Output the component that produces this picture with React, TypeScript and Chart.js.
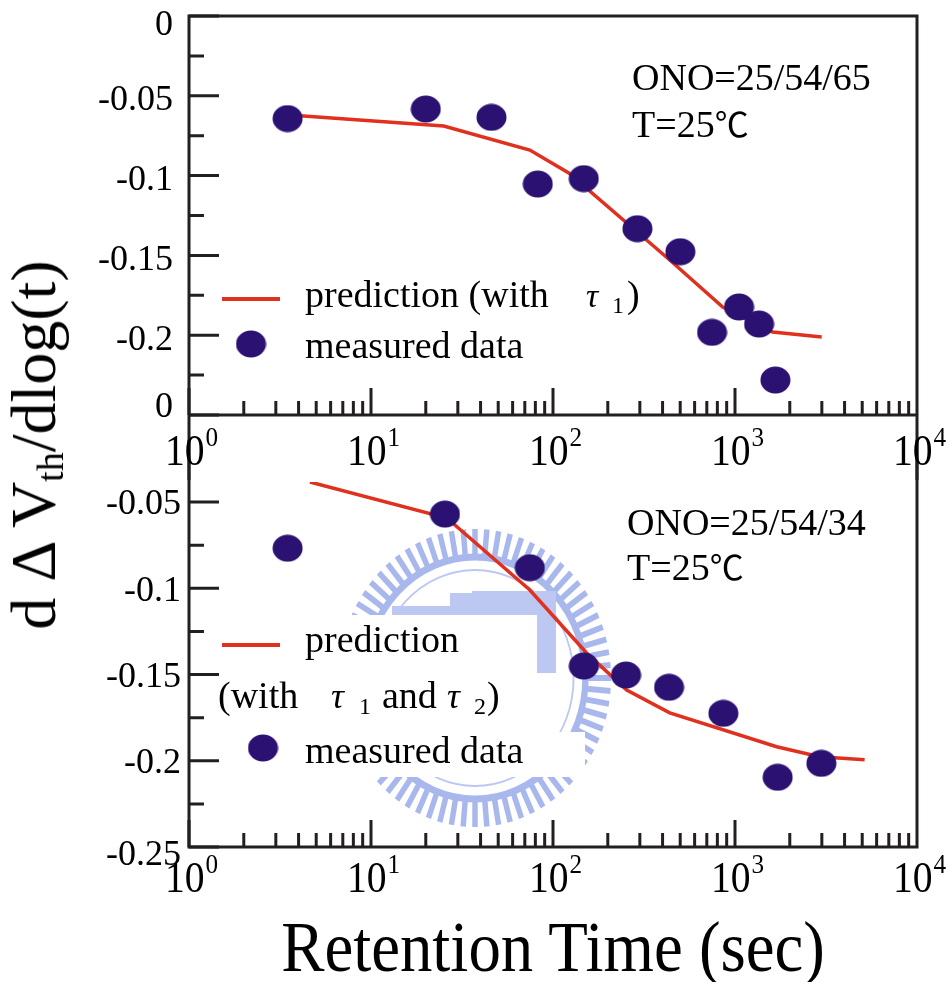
import React, { useEffect, useRef } from "react";
import { Chart, registerables } from "chart.js";

Chart.register(...registerables);

const SERIF = '"Liberation Serif", serif';
const CJK = '"Noto Sans CJK SC", "Liberation Serif", serif';
const AXIS_COLOR = "#231f20";
const LINE_RED = "#e0301e";
const DOT_BLUE = "#2a1172";
const WATERMARK = "#a9b8ec";
const WATERMARK_LIGHT = "#bcc8f1";

// ---------- data ----------
// upper panel: ONO=25/54/65
const topMeasuredTime = [3.48, 20.0, 45.9, 82.5, 147.6, 291, 501, 748, 1052, 1355, 1667];
const topMeasuredValue = [-0.0643, -0.0583, -0.0635, -0.1053, -0.1019, -0.1333, -0.1477, -0.1982, -0.1823, -0.193, -0.2281];
const topPredTime = [4.07, 25.1, 74.6, 122, 438, 856, 1610, 2994];
const topPredValue = [-0.0625, -0.0689, -0.084, -0.0984, -0.1529, -0.1823, -0.198, -0.2011];

// lower panel: ONO=25/54/34
const bottomMeasuredTime = [3.48, 25.5, 74.6, 147.6, 252, 434, 863, 1716, 2982];
const bottomMeasuredValue = [-0.0768, -0.057, -0.0881, -0.1451, -0.1503, -0.1574, -0.1725, -0.2096, -0.2015];
const bottomPredTime = [4.62, 26.1, 74.6, 153, 254, 438, 1694, 2918, 5155];
const bottomPredValue = [-0.0384, -0.0593, -0.101, -0.1375, -0.159, -0.1722, -0.1919, -0.1977, -0.1994];

// axes
const xDecades = [1, 10, 100, 1000, 10000];
const xExponents = ["0", "1", "2", "3", "4"];
const topYTicks = [0, -0.05, -0.1, -0.15, -0.2, -0.25];
const topYLabels = ["0", "-0.05", "-0.1", "-0.15", "-0.2", "0"];
const topYMinor = [-0.025, -0.075, -0.125, -0.175, -0.225];
const bottomYTicks = [-0.05, -0.1, -0.15, -0.2, -0.25];
const bottomYLabels = ["-0.05", "-0.1", "-0.15", "-0.2", "-0.25"];
const bottomYMinor = [-0.075, -0.125, -0.175, -0.225];

// texts
const topNote = ["ONO=25/54/65", "T=25\u2103"];
const bottomNote = ["ONO=25/54/34", "T=25\u2103"];

function makeDot(w: number, h: number) {
  const c = document.createElement("canvas");
  c.width = w;
  c.height = h;
  const g = c.getContext("2d")!;
  g.fillStyle = DOT_BLUE;
  g.beginPath();
  g.ellipse(w / 2, h / 2, w / 2 - 0.5, h / 2 - 0.5, 0, 0, Math.PI * 2);
  g.fill();
  return c;
}

function txt(ctx: CanvasRenderingContext2D, s: string, x: number, y: number, size: number, italic = false) {
  ctx.font = `${italic ? "italic " : ""}${size}px ${SERIF}`;
  ctx.fillStyle = "#000";
  ctx.textAlign = "left";
  ctx.textBaseline = "alphabetic";
  ctx.fillText(s, x, y);
}

// temperature note: serif text, the degree-Celsius sign from the CJK font
function tempNote(ctx: CanvasRenderingContext2D, s: string, x: number, y: number) {
  const head = s.slice(0, -1);
  const unit = s.slice(-1);
  txt(ctx, head, x, y, 38);
  const w = ctx.measureText(head).width;
  ctx.font = `34px ${CJK}`;
  ctx.fillText(unit, x + w, y);
}

function legendLine(ctx: CanvasRenderingContext2D, x0: number, x1: number, y: number) {
  ctx.save();
  ctx.strokeStyle = LINE_RED;
  ctx.lineWidth = 4;
  ctx.beginPath();
  ctx.moveTo(x0, y);
  ctx.lineTo(x1, y);
  ctx.stroke();
  ctx.restore();
}

type PanelCfg = {
  yTicks: number[];
  yLabels: string[];
  yMinor: number[];
  topBorder: boolean;
  lineTop: (top: number) => number;
  lineBottom: number;
  xLabelBaseline: number;
  yLabelRight: number;
  yLabelY: (py: number, top: number, bottom: number) => number;
  background?: (ctx: CanvasRenderingContext2D) => void;
  foreground: (ctx: CanvasRenderingContext2D) => void;
};

function decorPlugin(cfg: PanelCfg) {
  return {
    id: "decor",
    beforeDatasetsDraw(chart: any) {
      if (cfg.background) {
        const ctx = chart.ctx as CanvasRenderingContext2D;
        ctx.save();
        cfg.background(ctx);
        ctx.restore();
      }
    },
    afterDraw(chart: any) {
      const ctx = chart.ctx as CanvasRenderingContext2D;
      const { left, right, top, bottom } = chart.chartArea;
      const xs = chart.scales.x;
      const ys = chart.scales.y;
      ctx.save();
      ctx.strokeStyle = AXIS_COLOR;
      ctx.lineWidth = 3;
      ctx.lineCap = "butt";
      ctx.beginPath();
      const lt = cfg.lineTop(top);
      ctx.moveTo(left, lt);
      ctx.lineTo(left, cfg.lineBottom);
      ctx.moveTo(right, lt);
      ctx.lineTo(right, cfg.lineBottom);
      ctx.moveTo(left - 1.5, bottom);
      ctx.lineTo(right + 1.5, bottom);
      if (cfg.topBorder) {
        ctx.moveTo(left - 1.5, top);
        ctx.lineTo(right + 1.5, top);
      }
      ctx.stroke();

      // x ticks (inward)
      ctx.beginPath();
      for (let d = 0; d < xDecades.length - 1; d++) {
        for (let m = 1; m <= 9; m++) {
          const px = xs.getPixelForValue(xDecades[d] * m);
          const len = m === 1 ? 27 : 14;
          ctx.moveTo(px, bottom);
          ctx.lineTo(px, bottom - len);
        }
      }
      ctx.stroke();

      // y ticks (inward)
      ctx.beginPath();
      cfg.yTicks.forEach((v) => {
        const py = ys.getPixelForValue(v);
        ctx.moveTo(left, py);
        ctx.lineTo(left + 30, py);
      });
      cfg.yMinor.forEach((v) => {
        const py = ys.getPixelForValue(v);
        ctx.moveTo(left, py);
        ctx.lineTo(left + 15, py);
      });
      ctx.stroke();

      // y labels
      ctx.fillStyle = "#000";
      ctx.font = `36px ${SERIF}`;
      ctx.textAlign = "right";
      ctx.textBaseline = "middle";
      cfg.yTicks.forEach((v, i) => {
        const py = ys.getPixelForValue(v);
        ctx.fillText(cfg.yLabels[i], cfg.yLabelRight, cfg.yLabelY(py, top, bottom));
      });

      // x labels 10^k
      ctx.textAlign = "left";
      ctx.textBaseline = "alphabetic";
      xDecades.forEach((v, i) => {
        const px = xs.getPixelForValue(v);
        ctx.save();
        ctx.translate(px - 24, cfg.xLabelBaseline);
        ctx.scale(0.9, 1);
        ctx.font = `44px ${SERIF}`;
        ctx.fillText("10", 0, 0);
        const w = ctx.measureText("10").width;
        ctx.font = `28px ${SERIF}`;
        ctx.fillText(xExponents[i], w + 1, -19);
        ctx.restore();
      });

      cfg.foreground(ctx);
      ctx.restore();
    },
  };
}

function buildConfig(
  dot: HTMLCanvasElement,
  mx: number[],
  my: number[],
  px: number[],
  py: number[],
  ymin: number,
  ymax: number,
  padTop: number,
  xAxisH: number,
  cfg: PanelCfg
): any {
  return {
    type: "scatter",
    data: {
      datasets: [
        {
          label: "measured data",
          data: mx.map((x, i) => ({ x, y: my[i] })),
          pointStyle: dot,
          pointRadius: 15,
          pointHoverRadius: 15,
          showLine: false,
          order: 0,
        },
        {
          label: "prediction",
          data: px.map((x, i) => ({ x, y: py[i] })),
          showLine: true,
          borderColor: LINE_RED,
          backgroundColor: LINE_RED,
          borderWidth: 3.5,
          pointRadius: 0,
          pointHoverRadius: 0,
          fill: false,
          tension: 0,
          order: 1,
        },
      ],
    },
    options: {
      animation: false,
      responsive: false,
      events: [],
      layout: { padding: { left: 0, right: 33, top: padTop, bottom: 0 } },
      plugins: { legend: { display: false }, tooltip: { enabled: false }, title: { display: false } },
      scales: {
        x: {
          type: "logarithmic",
          min: 1,
          max: 10000,
          ticks: { display: false },
          grid: { display: false },
          border: { display: false },
          afterFit: (s: any) => {
            s.height = xAxisH;
          },
        },
        y: {
          type: "linear",
          min: ymin,
          max: ymax,
          ticks: { display: false },
          grid: { display: false },
          border: { display: false },
          afterFit: (s: any) => {
            s.width = 189;
          },
        },
      },
    },
    plugins: [decorPlugin(cfg)],
  };
}

export default function App() {
  const topRef = useRef<HTMLCanvasElement>(null);
  const botRef = useRef<HTMLCanvasElement>(null);

  useEffect(() => {
    const dot = makeDot(31, 28);

    const topCfg: PanelCfg = {
      yTicks: topYTicks,
      yLabels: topYLabels,
      yMinor: topYMinor,
      topBorder: true,
      lineTop: (t) => t - 1.5,
      lineBottom: 480,
      xLabelBaseline: 465,
      yLabelRight: 173,
      yLabelY: (p, t, b) => Math.min(Math.max(p + 5, t + 10), b - 7),
      foreground: (ctx) => {
        legendLine(ctx, 222, 280, 299);
        txt(ctx, "prediction (with", 305, 307, 38);
        txt(ctx, "\u03c4", 586, 307, 34, true);
        txt(ctx, "1", 612, 313, 24);
        txt(ctx, ")", 627, 307, 38);
        ctx.drawImage(dot, 251 - 15.5, 344 - 14);
        txt(ctx, "measured data", 305, 358, 38);
        txt(ctx, topNote[0], 632, 90, 38);
        tempNote(ctx, topNote[1], 632, 137);
      },
    };

    const bottomCfg: PanelCfg = {
      yTicks: bottomYTicks,
      yLabels: bottomYLabels,
      yMinor: bottomYMinor,
      topBorder: false,
      lineTop: () => 0,
      lineBottom: 407 + 1.5,
      xLabelBaseline: 452,
      yLabelRight: 181,
      yLabelY: (p, t, b) => (Math.abs(p - b) < 1 ? p + 9 : p + 3),
      background: (ctx) => {
        // faint watermark seal behind the lower panel
        ctx.save();
        ctx.translate(475, 238);
        ctx.scale(0.913, 1);
        ctx.fillStyle = WATERMARK;
        ctx.strokeStyle = WATERMARK;
        ctx.lineWidth = 7;
        ctx.beginPath();
        ctx.arc(0, 0, 121, 0, Math.PI * 2);
        ctx.stroke();
        const n = 72;
        for (let i = 0; i < n; i++) {
          ctx.save();
          ctx.rotate((i / n) * Math.PI * 2);
          ctx.fillRect(-3, -149, 6, 26);
          ctx.restore();
        }
        ctx.strokeStyle = WATERMARK_LIGHT;
        ctx.lineWidth = 2;
        ctx.beginPath();
        ctx.arc(0, 0, 108, 0, Math.PI * 2);
        ctx.stroke();
        ctx.restore();
        ctx.fillStyle = WATERMARK_LIGHT;
        ctx.fillRect(392, 166, 66, 9);
        ctx.fillRect(450, 153, 28, 22);
        ctx.fillRect(472, 151, 84, 82);
        // white backing of the legend
        ctx.fillStyle = "#fff";
        ctx.fillRect(205, 175, 332, 118);
        ctx.fillRect(205, 292, 380, 45);
      },
      foreground: (ctx) => {
        legendLine(ctx, 222, 280, 205);
        txt(ctx, "prediction", 305, 212, 38);
        txt(ctx, "(with", 218, 268, 38);
        txt(ctx, "\u03c4", 331, 268, 36, true);
        txt(ctx, "1", 359, 274, 24);
        txt(ctx, "and", 382, 268, 38);
        txt(ctx, "\u03c4", 447, 268, 36, true);
        txt(ctx, "2", 474, 274, 24);
        txt(ctx, ")", 487, 268, 38);
        ctx.drawImage(dot, 263 - 15.5, 308 - 14);
        txt(ctx, "measured data", 305, 323, 38);
        txt(ctx, bottomNote[0], 627, 95, 38);
        tempNote(ctx, bottomNote[1], 627, 140);
      },
    };

    const c1 = new Chart(
      topRef.current!,
      buildConfig(dot, topMeasuredTime, topMeasuredValue, topPredTime, topPredValue, -0.25, 0, 16, 65, topCfg)
    );
    const c2 = new Chart(
      botRef.current!,
      buildConfig(dot, bottomMeasuredTime, bottomMeasuredValue, bottomPredTime, bottomPredValue, -0.25, -0.0384, 42, 135, bottomCfg)
    );
    return () => {
      c1.destroy();
      c2.destroy();
    };
  }, []);

  return (
    <div
      style={{
        position: "absolute",
        left: 0,
        top: 0,
        width: 950,
        height: 982,
        background: "#fff",
        overflow: "hidden",
      }}
    >
      <canvas
        ref={botRef}
        width={950}
        height={542}
        style={{ position: "absolute", left: 0, top: 440, width: 950, height: 542 }}
      />
      <canvas
        ref={topRef}
        width={950}
        height={480}
        style={{ position: "absolute", left: 0, top: 0, width: 950, height: 480 }}
      />
      <div style={{ position: "absolute", left: 38, top: 445, width: 0, height: 0 }}>
        <div
          style={{
            position: "absolute",
            left: 0,
            top: 0,
            transform: "translate(-50%, -50%) rotate(-90deg)",
            whiteSpace: "nowrap",
            fontFamily: SERIF,
            fontSize: 64,
            lineHeight: "64px",
            color: "#000",
          }}
        >
          d {"\u0394"} V<span style={{ fontSize: 38, position: "relative", top: 8 }}>th</span>/dlog(t)
        </div>
      </div>
      <div style={{ position: "absolute", left: 553, top: 911, width: 0, height: 0 }}>
        <div
          style={{
            position: "absolute",
            left: 0,
            top: 0,
            transform: "translateX(-50%) scaleX(0.9)",
            whiteSpace: "nowrap",
            fontFamily: SERIF,
            fontSize: 72,
            lineHeight: "72px",
            color: "#000",
          }}
        >
          Retention Time (sec)
        </div>
      </div>
    </div>
  );
}
